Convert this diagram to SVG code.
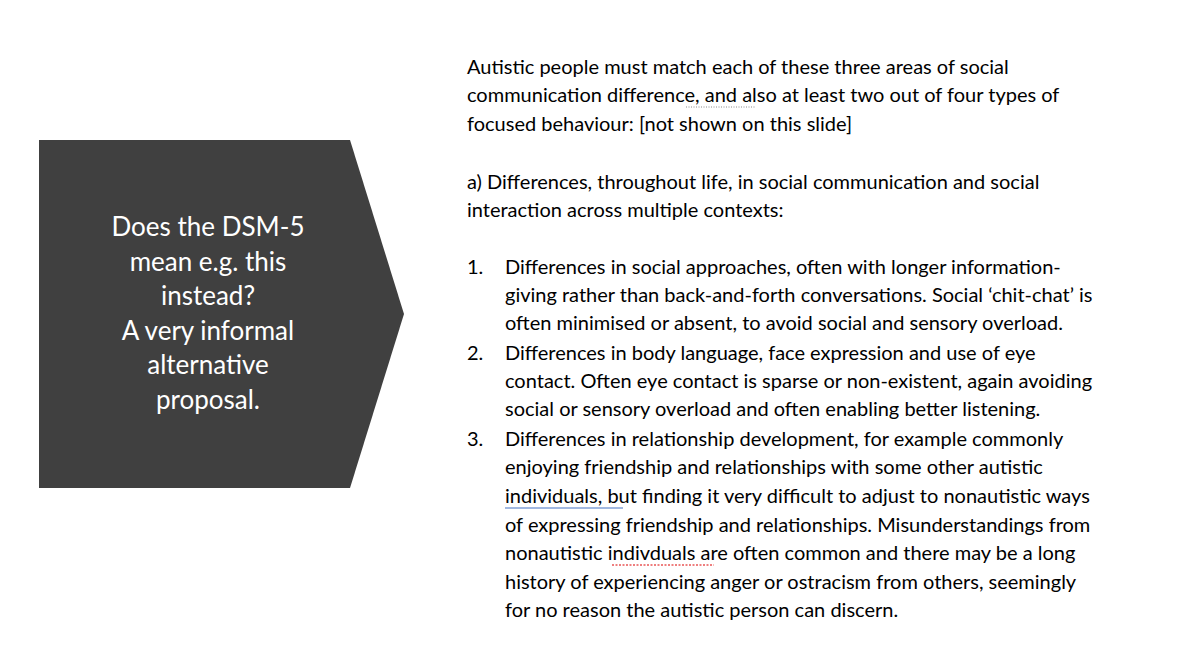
<svg xmlns="http://www.w3.org/2000/svg" width="1200" height="652" viewBox="0 0 1200 652">
<style>
.l{font-family:Lato,"Open Sans",sans-serif;font-size:26px;fill:#fff;text-anchor:middle}
.r{font-family:Lato,"Open Sans",sans-serif;font-size:20px;fill:#000}
</style>
<rect width="1200" height="652" fill="#fff"/>
<g id="chevron">
<polygon points="39,140 350,140 404,314 350,488 39,488" fill="#404040"/>
<text class="l" x="208" y="236">Does the DSM-5</text>
<text class="l" x="208" y="271">mean e.g. this</text>
<text class="l" x="208" y="305">instead?</text>
<text class="l" x="208" y="340">A very informal</text>
<text class="l" x="208" y="374">alternative</text>
<text class="l" x="208" y="409">proposal.</text>
</g>
<g id="body">
<text class="r" x="467" y="74">Autistic people must match each of these three areas of social</text>
<text class="r" x="467" y="102">communication difference, and also at least two out of four types of</text>
<text class="r" x="467" y="131">focused behaviour: [not shown on this slide]</text>
<text class="r" x="467" y="189">a) Differences, throughout life, in social communication and social</text>
<text class="r" x="467" y="217">interaction across multiple contexts:</text>
<text class="r" x="467" y="274">1.</text>
<text class="r" x="505" y="274">Differences in social approaches, often with longer information-</text>
<text class="r" x="505" y="302">giving rather than back-and-forth conversations.  Social ‘chit-chat’ is</text>
<text class="r" x="505" y="330">often minimised or absent, to avoid social and sensory overload.</text>
<text class="r" x="467" y="360">2.</text>
<text class="r" x="505" y="360">Differences in body language, face expression and use of eye</text>
<text class="r" x="505" y="388">contact. Often eye contact is sparse or non-existent, again avoiding</text>
<text class="r" x="505" y="416">social or sensory overload and often enabling better listening.</text>
<text class="r" x="467" y="446">3.</text>
<text class="r" x="505" y="446">Differences in relationship development, for example commonly</text>
<text class="r" x="505" y="474">enjoying friendship and relationships with some other autistic</text>
<text class="r" x="505" y="503">individuals, but finding it very difficult to adjust to nonautistic ways</text>
<text class="r" x="505" y="532">of expressing friendship and relationships.  Misunderstandings from</text>
<text class="r" x="505" y="560">nonautistic indivduals are often common and there may be a long</text>
<text class="r" x="505" y="589">history of experiencing anger or ostracism from others, seemingly</text>
<text class="r" x="505" y="617">for no reason the autistic person can discern.</text>
</g>
<g id="underlines" fill="none">
<line x1="686" y1="107" x2="756" y2="107" stroke="#888" stroke-dasharray="1,1.5"/>
<line x1="505" y1="508" x2="623" y2="508" stroke="#4472c4" stroke-width="1.2"/>
<line x1="612" y1="565" x2="714" y2="565" stroke="#d00" stroke-dasharray="2,1.5" stroke-width="1.2"/>
</g>
</svg>
